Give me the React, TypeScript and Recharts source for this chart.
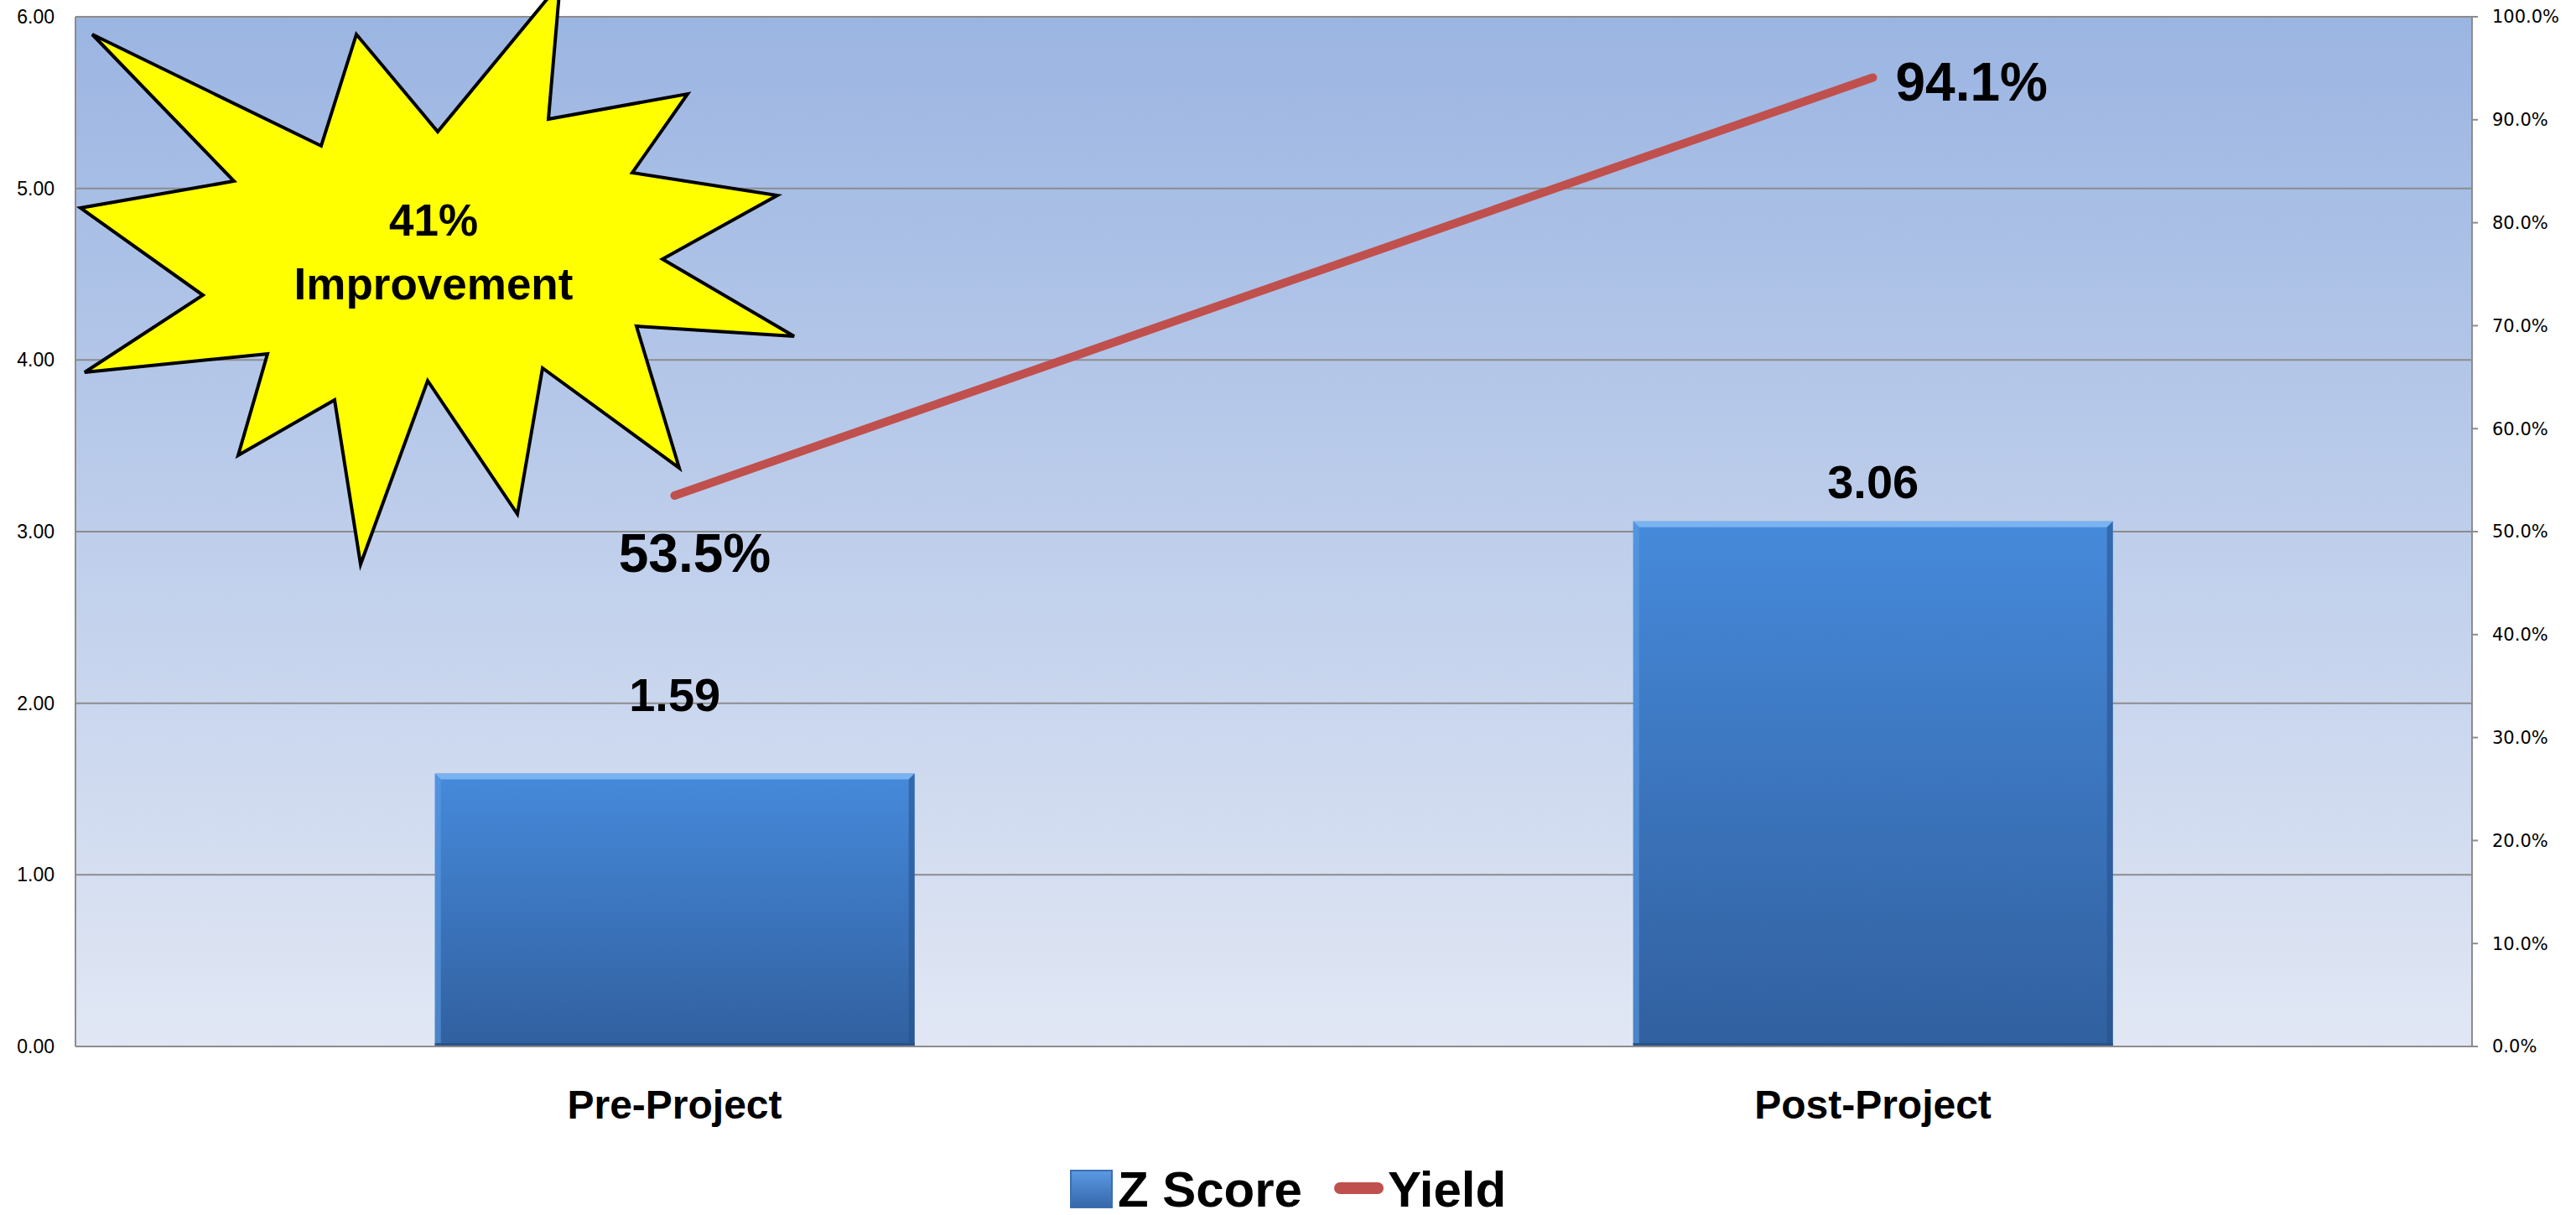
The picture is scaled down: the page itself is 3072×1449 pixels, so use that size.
import React from "react";
import {
  ComposedChart,
  Bar,
  Line,
  XAxis,
  YAxis,
  CartesianGrid,
  Legend,
  LabelList,
  Customized,
} from "recharts";

const categories = ["Pre-Project", "Post-Project"];
const zScores = [1.59, 3.06];
const yields = [0.535, 0.941];
const zTicks = [0, 1, 2, 3, 4, 5, 6];
const yieldTicks = [0, 0.1, 0.2, 0.3, 0.4, 0.5, 0.6, 0.7, 0.8, 0.9, 1.0];
const calloutText = ["41%", "Improvement"];

const data = categories.map((name, i) => ({
  name,
  z: zScores[i],
  yield: yields[i],
}));

const GRID = "#8C8C8C";
const RED = "#C0504D";
const BOLD = "'Liberation Sans', Arial, sans-serif";

// how far each bar label sits above its bar (hand-placed in the original)
const barLabelLift = [75, 28];

// starburst callout outline
const burst = [
  [110, 41], [383, 174], [425, 41], [522, 157], [668, -20], [654, 142],
  [820, 112], [754, 206], [927, 233], [790, 309], [947, 401], [759, 389],
  [810, 558], [647, 439], [617, 613], [510, 454], [430, 673], [399, 477],
  [284, 543], [319, 422], [101, 444], [242, 352], [96, 248], [279, 216],
];

const BevelBar = (props: any) => {
  const { x, y, width, height } = props;
  if (!height || height <= 0) return null;
  const b = 7;
  return (
    <g>
      <rect x={x} y={y} width={width} height={height} fill="url(#barGrad)" />
      <polygon
        points={`${x},${y} ${x + width},${y} ${x + width - b},${y + b} ${x + b},${y + b}`}
        fill="#79B3F0"
      />
      <polygon
        points={`${x},${y} ${x + b},${y + b} ${x + b},${y + height} ${x},${y + height}`}
        fill="#5B9BE3"
        opacity={0.6}
      />
      <polygon
        points={`${x + width},${y} ${x + width - b},${y + b} ${x + width - b},${y + height} ${x + width},${y + height}`}
        fill="#24508A"
        opacity={0.55}
      />
      <rect x={x} y={y + height - 4} width={width} height={4} fill="#2A5288" />
    </g>
  );
};

const BarLabel = (props: any) => {
  const { x, y, width, value, index } = props;
  return (
    <text
      x={x + width / 2}
      y={y - barLabelLift[index]}
      textAnchor="middle"
      fontFamily={BOLD}
      fontWeight="bold"
      fontSize={56}
      fill="#000"
    >
      {Number(value).toFixed(2)}
    </text>
  );
};

const YieldLabel = (props: any) => {
  const { x, y, value, index } = props;
  const first = index === 0;
  return (
    <text
      x={first ? x + 24 : x + 27}
      y={first ? y + 91 : y + 28}
      textAnchor={first ? "middle" : "start"}
      fontFamily={BOLD}
      fontWeight="bold"
      fontSize={64}
      fill="#000"
    >
      {(Number(value) * 100).toFixed(1)}%
    </text>
  );
};

const Starburst = () => (
  <g>
    <polygon
      points={burst.map((p) => p.join(",")).join(" ")}
      fill="#FFFF00"
      stroke="#000"
      strokeWidth={4}
      strokeLinejoin="miter"
    />
    <text
      x={517}
      y={281}
      textAnchor="middle"
      fontFamily={BOLD}
      fontWeight="bold"
      fontSize={53}
    >
      {calloutText[0]}
    </text>
    <text
      x={517}
      y={357}
      textAnchor="middle"
      fontFamily={BOLD}
      fontWeight="bold"
      fontSize={53}
    >
      {calloutText[1]}
    </text>
  </g>
);

const ChartLegend = () => (
  <div
    style={{
      height: 101,
      display: "flex",
      justifyContent: "center",
      alignItems: "flex-end",
      fontFamily: BOLD,
      fontWeight: "bold",
      fontSize: 60,
      lineHeight: "60px",
      color: "#000",
    }}
  >
    <div
      style={{
        width: 51,
        height: 46,
        marginBottom: 8,
        background: "linear-gradient(#5C9BE6, #3466A8)",
        boxShadow: "inset 0 0 0 2px #3C6FB0",
      }}
    />
    <span style={{ marginLeft: 6 }}>Z Score</span>
    <div
      style={{
        width: 59,
        height: 14,
        borderRadius: 7,
        background: RED,
        marginLeft: 38,
        marginBottom: 25,
      }}
    />
    <span style={{ marginLeft: 5 }}>Yield</span>
  </div>
);

const App = () => {
  return (
    <div style={{ width: 3072, height: 1449, background: "#fff" }}>
      <style>{"body{margin:0}"}</style>
      <ComposedChart
        width={3072}
        height={1449}
        data={data}
        margin={{ top: 20, right: 0, bottom: 0, left: 0 }}
        barCategoryGap="30%"
      >
        <defs>
          <linearGradient id="bgGrad" x1="0" y1="0" x2="0" y2="1">
            <stop offset="0%" stopColor="#9BB5E2" />
            <stop offset="100%" stopColor="#E1E7F4" />
          </linearGradient>
          <linearGradient id="barGrad" x1="0" y1="0" x2="0" y2="1">
            <stop offset="0%" stopColor="#468ADB" />
            <stop offset="100%" stopColor="#31609F" />
          </linearGradient>
        </defs>
        <CartesianGrid
          yAxisId="left"
          vertical={false}
          stroke={GRID}
          strokeWidth={2}
          fill="url(#bgGrad)"
          fillOpacity={1}
        />
        <XAxis
          dataKey="name"
          height={100}
          tickLine={false}
          tickSize={0}
          tickMargin={52}
          axisLine={{ stroke: GRID, strokeWidth: 2 }}
          tick={{ fontSize: 48, fontWeight: "bold", fontFamily: BOLD, fill: "#000" }}
        />
        <YAxis
          yAxisId="left"
          width={90}
          domain={[0, 6]}
          ticks={zTicks}
          tickFormatter={(v: number) => v.toFixed(2)}
          tickLine={false}
          tickSize={0}
          tickMargin={25}
          axisLine={{ stroke: GRID, strokeWidth: 2 }}
          tick={{ fontSize: 23, fontFamily: BOLD, fill: "#000" }}
        />
        <YAxis
          yAxisId="right"
          orientation="right"
          width={124}
          domain={[0, 1]}
          ticks={yieldTicks}
          tickFormatter={(v: number) => (v * 100).toFixed(1) + "%"}
          tickSize={7}
          tickMargin={17}
          tickLine={{ stroke: GRID, strokeWidth: 2 }}
          axisLine={{ stroke: GRID, strokeWidth: 2 }}
          tick={{ fontSize: 21, fontFamily: "'DejaVu Sans', sans-serif", fill: "#000" }}
        />
        <Bar
          yAxisId="left"
          dataKey="z"
          name="Z Score"
          shape={<BevelBar />}
          isAnimationActive={false}
        >
          <LabelList dataKey="z" content={<BarLabel />} />
        </Bar>
        <Line
          yAxisId="right"
          dataKey="yield"
          name="Yield"
          type="linear"
          stroke={RED}
          strokeWidth={10}
          strokeLinecap="round"
          dot={false}
          activeDot={false}
          isAnimationActive={false}
        >
          <LabelList dataKey="yield" content={<YieldLabel />} />
        </Line>
        <Customized component={<Starburst />} />
        <Legend verticalAlign="bottom" align="center" content={<ChartLegend />} />
      </ComposedChart>
    </div>
  );
};

export default App;
